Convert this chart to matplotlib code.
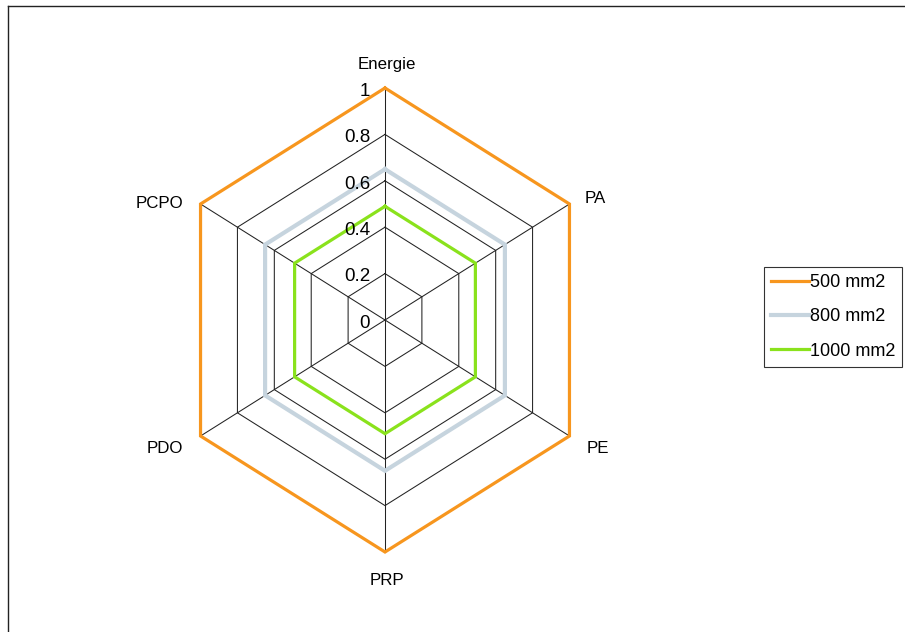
import numpy as np
import matplotlib.pyplot as plt
from matplotlib.lines import Line2D

plt.rcParams['font.family'] = ['Liberation Sans', 'DejaVu Sans']

axes_names = ["Energie", "PA", "PE", "PRP", "PDO", "PCPO"]
ticks = [0, 0.2, 0.4, 0.6, 0.8, 1]
tick_labels = ["0", "0.2", "0.4", "0.6", "0.8", "1"]

series_names = ["500 mm2", "800 mm2", "1000 mm2"]
v500 = [1, 1, 1, 1, 1, 1]
v800 = [0.65, 0.65, 0.65, 0.65, 0.65, 0.65]
v1000 = [0.49, 0.49, 0.49, 0.49, 0.49, 0.49]

colors = ["#f7961e", "#c6d4de", "#8ae21c"]
widths = [2.3, 3.0, 2.3]


def to_xy(values):
    ang = np.radians(np.arange(len(values)) * 360 / len(values))
    vals = np.append(values, values[0])
    ang = np.append(ang, ang[0])
    return vals * np.sin(ang), vals * np.cos(ang)


W, H = 905, 632
fig = plt.figure(figsize=(W / 100, H / 100), dpi=100)

# the chart is squashed horizontally, so use plain axes with unequal scales
sx, sy = 213.0, 232.0
cx, cy = 385.0, H - 320.0
xr, yr = 1.2, 1.25
ax = fig.add_axes([(cx - xr * sx) / W, (cy - yr * sy) / H,
                   2 * xr * sx / W, 2 * yr * sy / H])
ax.set_xlim(-xr, xr)
ax.set_ylim(-yr, yr)
ax.axis("off")

n = len(axes_names)
ang = np.radians(np.arange(n) * 360 / n)

# grid rings and spokes
for t in ticks[1:]:
    gx, gy = to_xy([t] * n)
    ax.plot(gx, gy, color="#222222", lw=0.75, zorder=1)
for a in ang:
    ax.plot([0, np.sin(a)], [0, np.cos(a)], color="#222222", lw=0.75, zorder=1)

# series
for name, vals, c, lw in zip(series_names, [v500, v800, v1000], colors, widths):
    x, y = to_xy(vals)
    ax.plot(x, y, color=c, lw=lw, label=name, zorder=3, solid_joinstyle="miter")

# tick labels along the top spoke
for t, lab in zip(ticks, tick_labels):
    ax.text(-0.07, t - 0.034, lab, ha="right", va="baseline", fontsize=13.5, zorder=4)

# axis labels
lab_pos = [(0.01, 1.081, "center"), (0.939, 0.506, "left"), (0.947, -0.573, "left"),
           (0.01, -1.142, "center"), (-0.948, -0.573, "right"), (-0.948, 0.484, "right")]
for name, (lx, ly, ha) in zip(axes_names, lab_pos):
    ax.text(lx, ly, name, ha=ha, va="baseline", fontsize=12.2)

leg = fig.legend(loc="upper left", bbox_to_anchor=(764 / W, 1 - 267 / H),
                 fontsize=13, frameon=True, fancybox=False, edgecolor="black",
                 handlelength=2.1, handletextpad=0.02, labelspacing=0.95,
                 borderpad=0.4, borderaxespad=0)
leg.get_frame().set_linewidth(0.8)

# frame of the figure, only left and top edges are visible
fig.add_artist(Line2D([7.5 / W, 7.5 / W], [0, 1 - 5.5 / H], color="#222222", lw=1))
fig.add_artist(Line2D([7.5 / W, 1], [1 - 5.5 / H, 1 - 5.5 / H], color="#222222", lw=1))

fig.savefig("out.png", dpi=100)
